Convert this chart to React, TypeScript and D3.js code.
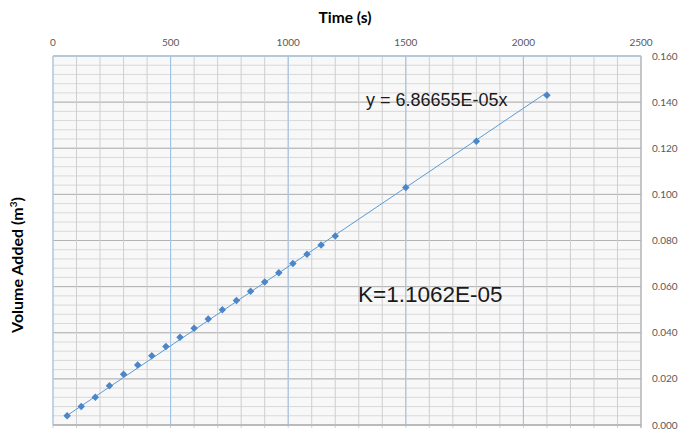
import * as d3 from 'd3'

const times = [60, 120, 180, 240, 300, 360, 420, 480, 540, 600, 660, 720, 780, 840, 900, 960, 1020, 1080, 1140, 1200, 1500, 1800, 2100]
const volumes = [0.004, 0.008, 0.012, 0.017, 0.022, 0.026, 0.03, 0.034, 0.038, 0.042, 0.046, 0.05, 0.054, 0.058, 0.062, 0.066, 0.07, 0.074, 0.078, 0.082, 0.103, 0.123, 0.143]
const slope = 6.86655e-5
const xTicks = [0, 500, 1000, 1500, 2000, 2500]
const yTicks = [0, 0.02, 0.04, 0.06, 0.08, 0.1, 0.12, 0.14, 0.16]

const W = 684
const H = 432
const left = 53
const right = 641
const top = 56
const bottom = 425

export default function App() {
  const x = d3.scaleLinear().domain([0, 2500]).range([left, right])
  const y = d3.scaleLinear().domain([0, 0.16]).range([bottom, top])

  const xMinor = d3.range(0, 2501, 100)
  const yMinor = d3.range(0, 41).map(i => i * 0.004)

  const trend = d3.line<number>()
    .x(t => x(t))
    .y(t => y(slope * t))
  const t0 = d3.min(times) as number
  const t1 = d3.max(times) as number

  // square turned 45 degrees, like the spreadsheet diamond marker
  const marker = d3.symbol().type(d3.symbolSquare).size(28)()

  const tickFont = 'Lato, "Open Sans", sans-serif'

  return (
    <svg width={W} height={H} style={{ position: 'absolute', left: 0, top: 0, background: '#fff' }}>
      <rect x={left} y={top} width={right - left} height={bottom - top} fill="#f8f8f8" />
      {/* minor horizontal grid */}
      {yMinor.map((v, i) => (
        <line key={'hm' + i} x1={left} x2={right} y1={y(v)} y2={y(v)} stroke="#d9d9d9" strokeWidth={1} />
      ))}
      {/* major horizontal grid */}
      {yTicks.map((v, i) => (
        <line key={'hM' + i} x1={left} x2={right} y1={y(v)} y2={y(v)} stroke="#b3b3b3" strokeWidth={1} />
      ))}
      {/* minor vertical grid */}
      {xMinor.map((v, i) => (
        <line key={'vm' + i} x1={x(v)} x2={x(v)} y1={top} y2={bottom + 3} stroke="#cfcfcf" strokeWidth={1} />
      ))}
      {/* major vertical grid */}
      {xTicks.slice(0, -1).map((v, i) => (
        <line key={'vM' + i} x1={x(v)} x2={x(v)} y1={top} y2={bottom} stroke="#9dc3e6" strokeWidth={1} />
      ))}
      <line x1={right} x2={right} y1={top} y2={bottom + 3} stroke="#a6a6a6" />
      <line x1={left} x2={right} y1={bottom} y2={bottom} stroke="#a6a6a6" />
      <line x1={left} x2={right} y1={top} y2={top} stroke="#9dc3e6" />

      {/* top axis labels */}
      {xTicks.map(v => (
        <text key={'xt' + v} x={x(v)} y={46} textAnchor="middle" fontFamily={tickFont} fontSize={10} fill="#595959">
          {v}
        </text>
      ))}
      {/* right axis labels */}
      {yTicks.map(v => (
        <text key={'yt' + v} x={652} y={y(v) + 3.5} fontFamily={tickFont} fontSize={10} fill="#595959">
          {d3.format('.3f')(v)}
        </text>
      ))}

      {/* trendline */}
      <path d={trend([t0, t1]) ?? ''} fill="none" stroke="#5b9bd5" strokeWidth={1} />
      {times.map((t, i) => (
        <path key={'p' + i} d={marker ?? ''} transform={`translate(${x(t)},${y(volumes[i])}) rotate(45)`} fill="#4a86c8" />
      ))}

      <text x={345} y={23} textAnchor="middle" fontFamily={tickFont} fontWeight="bold" fontSize={15.5} fill="#000">
        Time (s)
      </text>
      <text transform="translate(23,265) rotate(-90)" textAnchor="middle" fontFamily={tickFont} fontWeight="bold" fontSize={16} fill="#000">
        Volume Added (m<tspan dy={-6} fontSize={10}>3</tspan><tspan dy={6}>)</tspan>
      </text>

      <text x={366} y={106} fontFamily='"Liberation Sans", Arial, sans-serif' fontSize={18} fill="#1a1a1a">
        y = 6.86655E-05x
      </text>
      <text x={358} y={302} fontFamily='"Liberation Sans", Arial, sans-serif' fontSize={22.5} fill="#1a1a1a">
        K=1.1062E-05
      </text>
    </svg>
  )
}
